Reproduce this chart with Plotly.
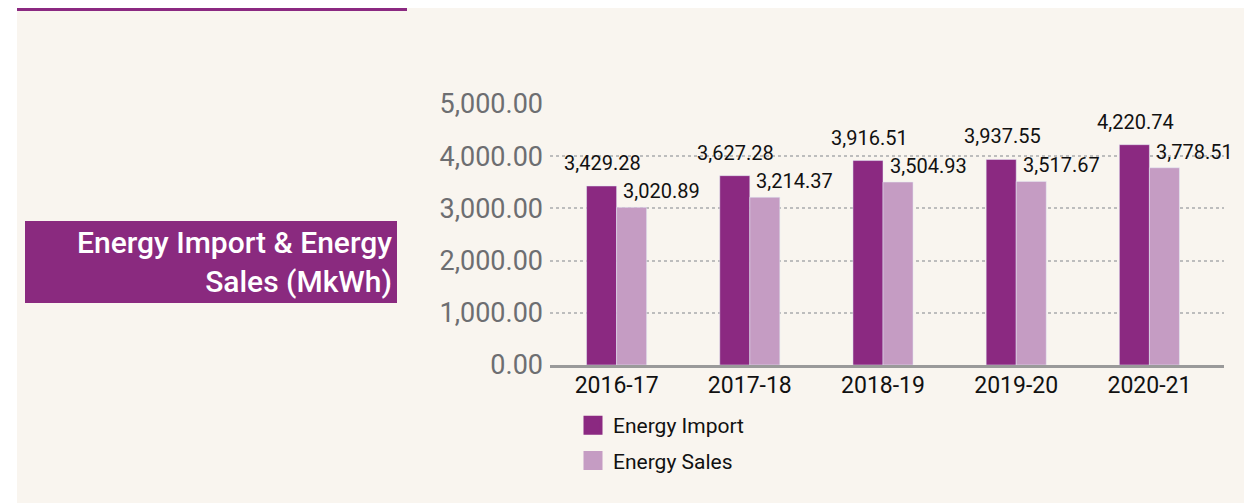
import plotly.graph_objects as go

years = ["2016-17", "2017-18", "2018-19", "2019-20", "2020-21"]
energy_import = [3429.28, 3627.28, 3916.51, 3937.55, 4220.74]
energy_sales = [3020.89, 3214.37, 3504.93, 3517.67, 3778.51]
y_ticks = [0, 1000, 2000, 3000, 4000, 5000]

C_IMPORT = "#8b2981"
C_SALES = "#c59cc3"
CREAM = "#f9f5ef"
# page body has an 8px margin; figure is sized to fill the rest of the window
OFF = 8
W, H = 1252 - OFF, 503 - OFF
ML, MR, MT, MB = 550 - OFF, 28, 104 - OFF, 138

def px(x):  # screen x -> paper
    return (x - OFF - ML) / (W - ML - MR)

def py(y):  # screen y -> paper
    return (H - MB - (y - OFF)) / (H - MT - MB)

LABEL_FONT = "Roboto, sans-serif"

fig = go.Figure()
fig.add_trace(go.Bar(x=years, y=energy_import, marker_color=C_IMPORT, showlegend=False, name="Energy Import"))
fig.add_trace(go.Bar(x=years, y=energy_sales, marker_color=C_SALES, showlegend=False, name="Energy Sales"))
fig.add_trace(go.Scatter(x=[None], y=[None], mode="markers", name="Energy Import", legendgroup="a",
                         marker=dict(symbol="square", size=16, color=C_IMPORT, line=dict(width=3, color=C_IMPORT))))
fig.add_trace(go.Scatter(x=[None], y=[None], mode="markers", name="Energy Sales", legendgroup="b",
                         marker=dict(symbol="square", size=16, color=C_SALES, line=dict(width=3, color=C_SALES))))

annotations = []
for i, (a, b) in enumerate(zip(energy_import, energy_sales)):
    annotations.append(dict(x=years[i], y=a, xref="x", yref="y", text=f"{a:,.2f}", showarrow=False,
                            xshift=-14, yshift=9, yanchor="bottom", font=dict(family=LABEL_FONT, size=20, color="#111")))
    annotations.append(dict(x=years[i], y=b, xref="x", yref="y", text=f"{b:,.2f}", showarrow=False,
                            xshift=45, yshift=2, yanchor="bottom", font=dict(family=LABEL_FONT, size=20, color="#111")))

annotations.append(dict(x=px(394), y=py(262), xref="paper", yref="paper", xanchor="right", yanchor="middle",
                        text="Energy Import & Energy<br>Sales (MkWh)", align="right", showarrow=False,
                        font=dict(family="Roboto", size=30, color="white", weight=500)))

shapes = [
    dict(type="rect", xref="paper", yref="paper", x0=px(17), x1=px(1260), y0=py(510), y1=py(8),
         fillcolor=CREAM, line_width=0, layer="below"),
    dict(type="rect", xref="paper", yref="paper", x0=px(17), x1=px(407), y0=py(11), y1=py(8),
         fillcolor=C_IMPORT, line_width=0, layer="below"),
    dict(type="rect", xref="paper", yref="paper", x0=px(25), x1=px(397), y0=py(303), y1=py(221),
         fillcolor="#8a2a7f", line_width=0, layer="below"),
]

fig.update_layout(
    width=W, height=H,
    margin=dict(l=ML, r=MR, t=MT, b=MB),
    paper_bgcolor="white", plot_bgcolor=CREAM,
    barmode="group", bargap=0.549, bargroupgap=0,
    annotations=annotations, shapes=shapes,
    legend=dict(x=px(573), y=py(405), xanchor="left", yanchor="top", bgcolor="rgba(0,0,0,0)",
                traceorder="grouped", tracegroupgap=5,
                font=dict(family="Roboto", size=21, color="#111")),
    xaxis=dict(range=[-0.5, 4.56], showgrid=False, showline=True, linecolor="#9a9a9a", linewidth=3,
               tickfont=dict(family="Roboto", size=23, color="#111"), ticks="", ticklabelstandoff=-3),
    yaxis=dict(range=[0, 5000], tickvals=y_ticks, tickformat=",.2f", showgrid=True, gridcolor="#bdbdbd",
               griddash="dot", gridwidth=2, zeroline=False, showline=False,
               tickfont=dict(family="Roboto", size=27, color="#6d6e71"), ticks="", ticklabelstandoff=6),
)

fig.write_html("out.html")
